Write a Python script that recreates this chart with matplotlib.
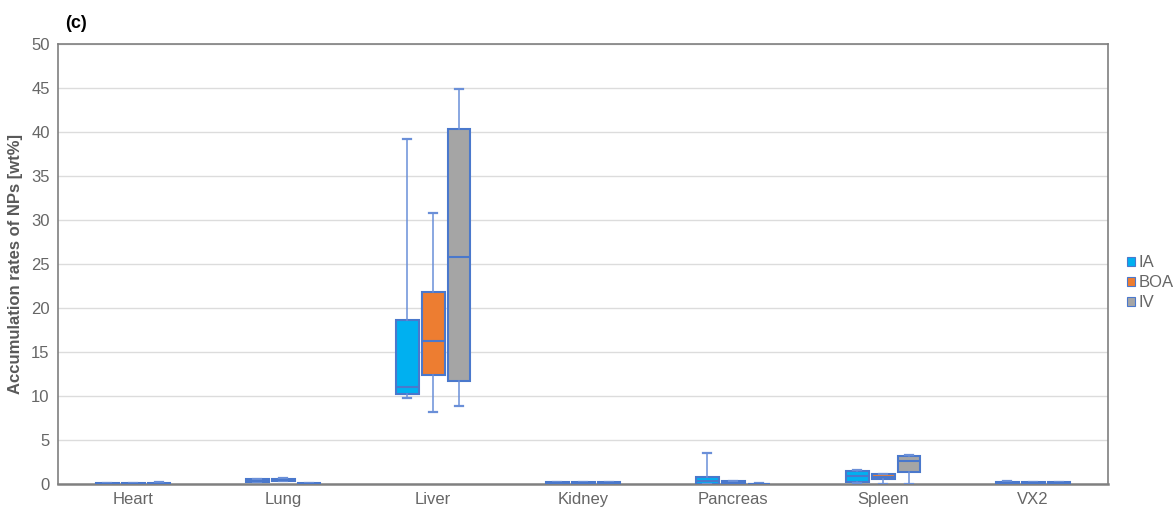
import matplotlib
matplotlib.use('Agg')
import matplotlib.pyplot as plt
from matplotlib.patches import Patch

plt.rcParams['font.family'] = ['Liberation Sans', 'DejaVu Sans']

# ============================================================
# 数据
# ============================================================
organs = ['Heart', 'Lung', 'Liver', 'Kidney', 'Pancreas', 'Spleen', 'VX2']
groups = ['IA', 'BOA', 'IV']

# 每个器官: (whislo, q1, med, q3, whishi)
ia_stats = [(0.0, 0.02, 0.05, 0.1, 0.15), (0.2, 0.2, 0.35, 0.55, 0.6), (9.8, 10.2, 11.0, 18.6, 39.2),
            (0.0, 0.05, 0.1, 0.2, 0.25), (0.0, 0.05, 0.3, 0.85, 3.55), (0.1, 0.25, 0.9, 1.5, 1.6),
            (0.0, 0.05, 0.15, 0.25, 0.3)]
boa_stats = [(0.0, 0.02, 0.05, 0.08, 0.1), (0.3, 0.3, 0.45, 0.6, 0.65), (8.2, 12.4, 16.3, 21.85, 30.75),
             (0.0, 0.05, 0.1, 0.2, 0.25), (0.0, 0.05, 0.15, 0.3, 0.35), (0.0, 0.55, 0.85, 1.13, 1.15),
             (0.0, 0.05, 0.1, 0.2, 0.25)]
iv_stats = [(0.0, 0.02, 0.05, 0.1, 0.2), (0.0, 0.02, 0.05, 0.1, 0.15), (8.9, 11.7, 25.8, 40.3, 44.9),
            (0.0, 0.05, 0.1, 0.2, 0.25), (0.0, 0.01, 0.02, 0.05, 0.06), (0.05, 1.4, 2.65, 3.2, 3.25),
            (0.0, 0.05, 0.1, 0.2, 0.25)]

colors = ['#00B0F0', '#ED7D31', '#A5A5A5']
edge = '#4A78CC'
whisk = '#6A8FD8'
text_gray = '#666666'

# ============================================================
# 绘图
# ============================================================
fig = plt.figure(figsize=(11.75, 5.11), dpi=100)
ax = fig.add_axes([0.0494, 0.0528, 0.8936, 0.8611])

for ax_y in range(0, 51, 5):
    ax.axhline(ax_y, color='#DCDCDC', lw=1, zorder=0)

offsets = [-0.173, 0.0, 0.173]
for gi, stats in enumerate([ia_stats, boa_stats, iv_stats]):
    bxp_stats = []
    for lo, q1, med, q3, hi in stats:
        bxp_stats.append({'whislo': lo, 'q1': q1, 'med': med, 'q3': q3, 'whishi': hi, 'fliers': []})
    pos = [i + offsets[gi] for i in range(len(organs))]
    ax.bxp(bxp_stats, positions=pos, widths=0.153, patch_artist=True, showfliers=False,
           boxprops=dict(facecolor=colors[gi], edgecolor=edge, lw=1.5),
           medianprops=dict(color=edge, lw=1.5),
           whiskerprops=dict(color=whisk, lw=1.1),
           capprops=dict(color=whisk, lw=1.6), capwidths=0.05,
           manage_ticks=False, zorder=3)

ax.set_xlim(-0.5, len(organs) - 0.5)
ax.set_ylim(0, 50)
ax.set_yticks(range(0, 51, 5))
ax.set_xticks(range(len(organs)))
ax.set_xticklabels(organs)
ax.tick_params(axis='both', length=0, labelsize=12, colors=text_gray, pad=6)

for s in ['top', 'right', 'left']:
    ax.spines[s].set_color('#7F7F7F')
    ax.spines[s].set_linewidth(1.2)
ax.spines['bottom'].set_color('#808080')
ax.spines['bottom'].set_linewidth(1.8)

ax.set_ylabel('Accumulation rates of NPs [wt%]', fontsize=12, fontweight='bold',
              color='#595959', labelpad=6)

handles = [Patch(facecolor=c, edgecolor=edge, lw=0.8) for c in colors]
fig.legend(handles, groups, loc='upper left', bbox_to_anchor=(0.946, 0.53), frameon=False,
           handlelength=0.5, handleheight=0.5, handletextpad=0.2, labelspacing=0.3,
           fontsize=12, labelcolor=text_gray)

fig.text(0.055, 0.945, '(c)', fontsize=13, fontweight='bold', color='black')

fig.savefig('out.png', dpi=100)
